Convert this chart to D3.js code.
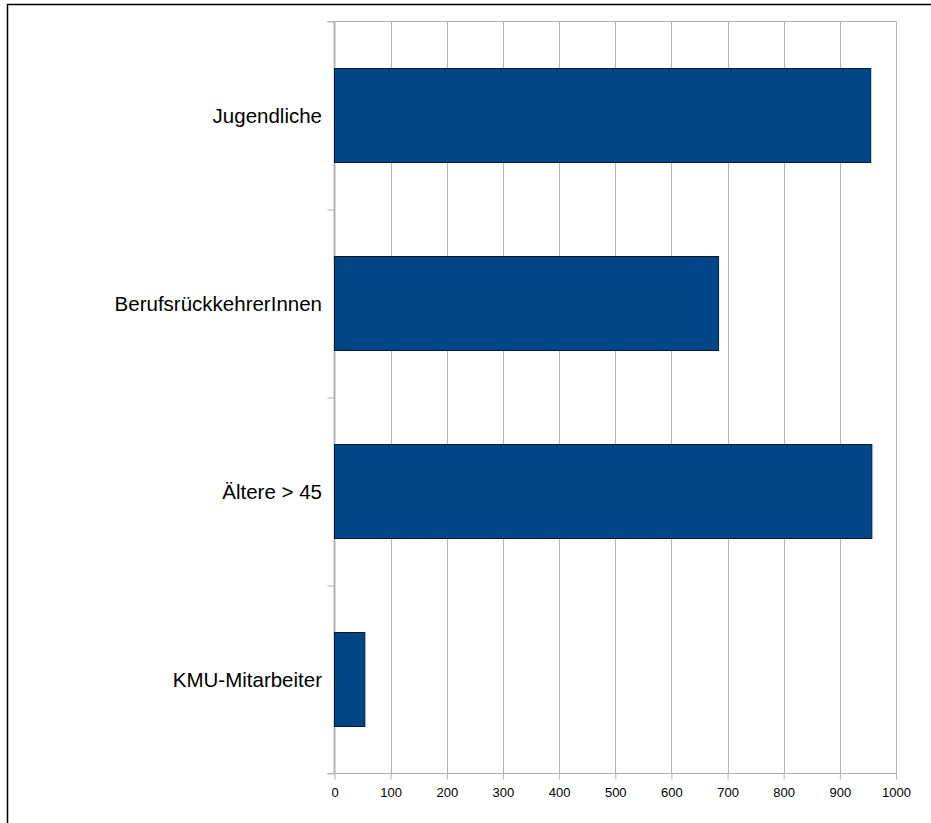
<!DOCTYPE html>
<html>
<head>
<meta charset="utf-8">
<script src="https://cdn.jsdelivr.net/npm/d3@7"></script>
<style>
  html, body { margin: 0; padding: 0; background: #fff; }
  svg { display: block; font-family: "Liberation Sans", Arial, sans-serif; }
</style>
</head>
<body>
<svg id="chart" width="931" height="823"></svg>
<script>
// chart data
const categories = ["Jugendliche", "BerufsrückkehrerInnen", "Ältere > 45", "KMU-Mitarbeiter"];
const values = [955, 684, 957, 54];
const xTicks = [0, 100, 200, 300, 400, 500, 600, 700, 800, 900, 1000];

const svg = d3.select("#chart");
const plot = { left: 334.5, right: 896, top: 21.5, bottom: 773.5 };
const gridColor = "#b3b3b3";

// outer frame (runs off the right and bottom edge)
svg.append("rect")
    .attr("x", 7.5).attr("y", 4.5)
    .attr("width", 1200).attr("height", 1200)
    .attr("fill", "none").attr("stroke", "#000").attr("stroke-width", 1.5);

const x = d3.scaleLinear().domain([0, 1000]).range([plot.left, plot.right]);
const y = d3.scaleBand().domain(categories).range([plot.top, plot.bottom]).paddingInner(0.5).paddingOuter(0.25);
const yEdge = d3.scaleLinear().domain([0, categories.length]).range([plot.top, plot.bottom]);

// vertical grid lines
svg.append("g")
  .selectAll("line")
  .data(xTicks.slice(1))
  .join("line")
    .attr("x1", d => Math.round(x(d)) + 0.5).attr("x2", d => Math.round(x(d)) + 0.5)
    .attr("y1", plot.top).attr("y2", plot.bottom)
    .attr("stroke", gridColor).attr("stroke-width", 1);

// y axis: ticks on band edges, labels drawn at band centres
const yAxis = svg.append("g")
    .attr("transform", `translate(${plot.left},0)`)
    .call(d3.axisLeft(yEdge).tickValues(d3.range(categories.length + 1)).tickSize(7).tickFormat(""));
yAxis.select(".domain").remove();
yAxis.selectAll(".tick line").attr("stroke", gridColor);

// top border of the plot area
svg.append("line")
    .attr("x1", plot.left - 7).attr("x2", plot.right)
    .attr("y1", plot.top).attr("y2", plot.top)
    .attr("stroke", gridColor).attr("stroke-width", 1);

svg.append("line")
    .attr("x1", plot.left).attr("x2", plot.left)
    .attr("y1", plot.top).attr("y2", plot.bottom)
    .attr("stroke", gridColor).attr("stroke-width", 2);

svg.append("g")
  .selectAll("text")
  .data(categories)
  .join("text")
    .attr("x", plot.left - 12.5)
    .attr("y", d => y(d) + y.bandwidth() / 2)
    .attr("text-anchor", "end")
    .attr("dominant-baseline", "central")
    .attr("font-size", 20.5)
    .attr("fill", "#000")
    .text(d => d);

// x axis
const xAxis = svg.append("g")
    .attr("transform", `translate(0,${plot.bottom})`)
    .call(d3.axisBottom(x).tickValues(xTicks).tickFormat(d3.format("d"))
        .tickSize(6).tickPadding(8).tickSizeOuter(0));
xAxis.select(".domain").attr("stroke", gridColor).attr("d", `M${plot.left - 7},0H${plot.right}`);
xAxis.selectAll(".tick line").attr("stroke", gridColor);
xAxis.selectAll(".tick text")
    .attr("font-family", "Liberation Sans, Arial, sans-serif")
    .attr("font-size", 13)
    .attr("fill", "#000");

// bars
svg.append("g")
  .selectAll("rect")
  .data(categories)
  .join("rect")
    .attr("x", x(0))
    .attr("y", d => y(d))
    .attr("width", (d, i) => x(values[i]) - x(0))
    .attr("height", y.bandwidth())
    .attr("fill", "#004586")
    .attr("stroke", "#0a1a2a")
    .attr("stroke-width", 1);
</script>
</body>
</html>
